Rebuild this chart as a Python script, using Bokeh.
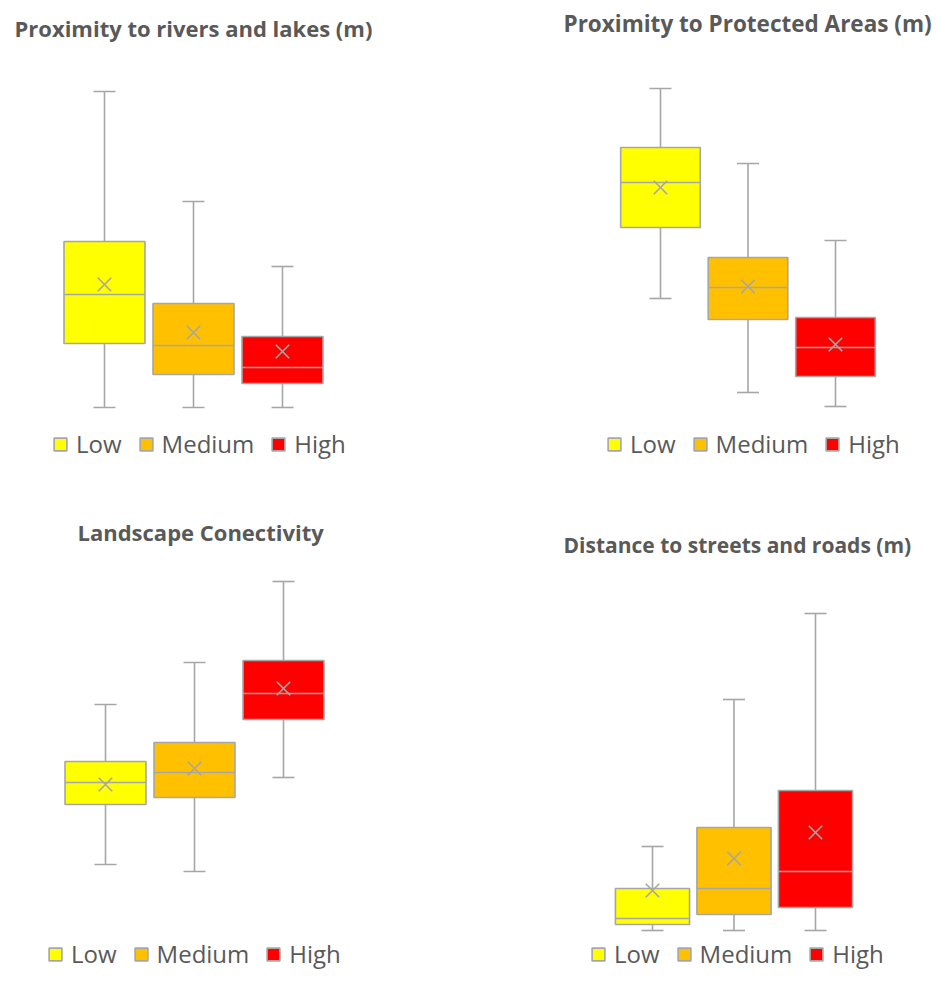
from bokeh.plotting import figure
from bokeh.models import Range1d, ColumnDataSource, Whisker, TeeHead, Label, Legend, LegendItem
from bokeh.layouts import column, row
from bokeh.embed import file_html
from bokeh.resources import INLINE

categories = ["Low", "Medium", "High"]
colors = ["#FFFF00", "#FFC000", "#FF0000"]
GRAY = "#A6A6A6"
TEXT = "#595959"
FONT = "Open Sans"

# Panel 1: Proximity to rivers and lakes (m)
rivers_min = [0, 0, 0]
rivers_q1 = [320, 165, 120]
rivers_median = [565, 310, 200]
rivers_q3 = [830, 520, 355]
rivers_max = [1580, 1030, 705]
rivers_mean = [615, 375, 280]

# Panel 2: Proximity to Protected Areas (m)
protected_min = [1080, 140, 0]
protected_q1 = [1790, 870, 300]
protected_median = [2240, 1190, 590]
protected_q3 = [2590, 1490, 890]
protected_max = [3180, 2430, 1660]
protected_mean = [2190, 1200, 620]

# Panel 3: Landscape Conectivity
conn_min = [0.216, 0.202, 0.390]
conn_q1 = [0.336, 0.350, 0.506]
conn_median = [0.380, 0.400, 0.558]
conn_q3 = [0.422, 0.460, 0.624]
conn_max = [0.536, 0.620, 0.782]
conn_mean = [0.376, 0.408, 0.568]

# Panel 4: Distance to streets and roads (m)
roads_min = [0, 0, 0]
roads_q1 = [30, 80, 115]
roads_median = [60, 210, 295]
roads_q3 = [210, 515, 700]
roads_max = [420, 1155, 1585]
roads_mean = [200, 360, 490]

BOX_W = 0.91


def make_panel(title, mins, q1s, meds, q3s, maxs, means, xr, yr, width, height,
               title_xy, legend_xy, title_size="22px"):
    pos = [i + 1 for i in range(len(categories))]
    src = ColumnDataSource(dict(
        x=pos, cat=categories, color=colors,
        lo=mins, q1=q1s, med=meds, q3=q3s, hi=maxs, mean=means,
        x0=[p - BOX_W / 2 for p in pos], x1=[p + BOX_W / 2 for p in pos],
    ))
    p = figure(width=width, height=height, x_range=Range1d(*xr), y_range=Range1d(*yr),
               output_backend="svg", toolbar_location=None, tools="",
               x_axis_type=None, y_axis_type=None, min_border=0,
               outline_line_color=None, background_fill_color="white",
               border_fill_color="white")
    whisk = Whisker(source=src, base="x", lower="lo", upper="hi",
                    line_color=GRAY, line_width=1.6,
                    lower_head=TeeHead(size=22, line_color=GRAY, line_width=1.6),
                    upper_head=TeeHead(size=22, line_color=GRAY, line_width=1.6))
    p.add_layout(whisk)
    boxes = p.vbar(x="x", width=BOX_W, bottom="q1", top="q3", source=src,
                   fill_color="color", line_color=GRAY, line_width=1.6)
    p.segment(x0="x0", x1="x1", y0="med", y1="med", source=src,
              line_color=GRAY, line_width=1.6)
    p.scatter(x="x", y="mean", source=src, marker="x", size=19,
              line_color=GRAY, line_width=1.6)
    p.add_layout(Label(x=title_xy[0], y=title_xy[1], x_units="screen", y_units="screen",
                       text=title, text_font=FONT, text_font_style="bold",
                       text_font_size=title_size, text_color=TEXT,
                       text_baseline="alphabetic"))
    items = [LegendItem(label=c, renderers=[boxes], index=i) for i, c in enumerate(categories)]
    leg = Legend(items=items, orientation="horizontal", location=legend_xy,
                 padding=0, margin=0, spacing=16, label_standoff=8,
                 glyph_width=16, glyph_height=16,
                 label_text_font=FONT, label_text_font_size="24px",
                 label_text_color=TEXT, border_line_alpha=0,
                 background_fill_alpha=0)
    p.add_layout(leg)
    return p


p1 = make_panel("Proximity to rivers and lakes (m)", rivers_min, rivers_q1, rivers_median,
                rivers_q3, rivers_max, rivers_mean,
                (-0.1685, 5.1124), (-415, 2035), 470, 490, (14, 463), (52, 30))
p2 = make_panel("Proximity to Protected Areas (m)", protected_min, protected_q1,
                protected_median, protected_q3, protected_max, protected_mean,
                (-1.1714, 4.1086), (-840, 4060), 462, 490, (93, 467), (136, 30),
                title_size="22.5px")
p3 = make_panel("Landscape Conectivity", conn_min, conn_q1, conn_median, conn_q3,
                conn_max, conn_mean,
                (-0.1798, 5.1011), (-0.002, 0.964), 470, 483, (77, 442), (47, 3))
p4 = make_panel("Distance to streets and roads (m)", roads_min, roads_q1, roads_median,
                roads_q3, roads_max, roads_mean,
                (-1.2331, 4.4356), (-215, 2200), 462, 483, (93, 429), (120, 3),
                title_size="21px")

layout = column(row(p1, p2), row(p3, p4))
open("out.html", "w").write(file_html(layout, INLINE))
